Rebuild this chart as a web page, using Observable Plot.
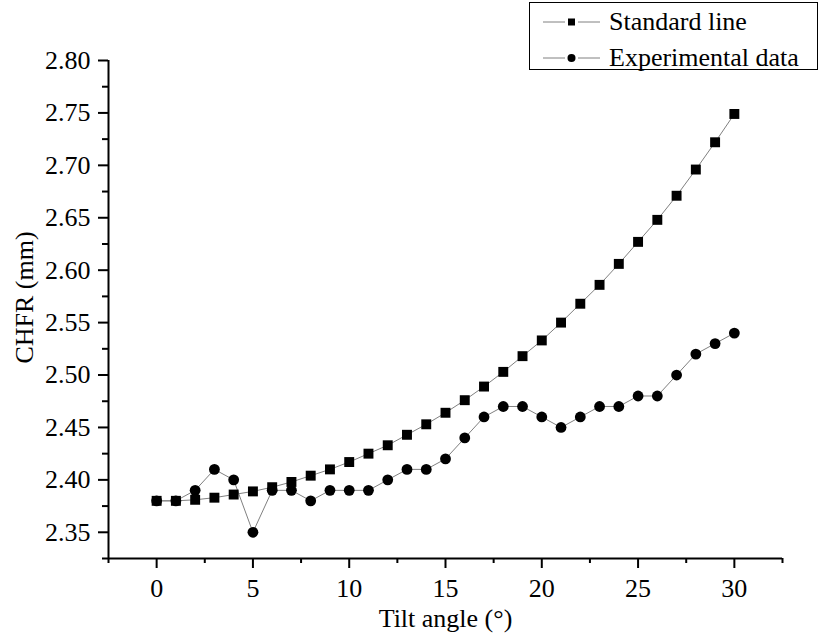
<!DOCTYPE html>
<html>
<head>
<meta charset="utf-8">
<script src="https://cdn.jsdelivr.net/npm/d3@7"></script>
<script src="https://cdn.jsdelivr.net/npm/@observablehq/plot@0.6"></script>
<style>
  html, body { margin: 0; padding: 0; background: #fff; }
  #wrap { position: relative; width: 820px; height: 634px; font-family: "Liberation Serif", "Times New Roman", serif; }
  #wrap svg text { font-family: "Liberation Serif", "Times New Roman", serif; font-variant-numeric: normal; }
  #legend { position: absolute; left: 529px; top: 2px; width: 289px; height: 68px; border: 1px solid #000; box-sizing: border-box; background: #fff; }
  .row { position: absolute; left: 0; height: 34px; display: flex; align-items: center; font-size: 26px; color: #000; white-space: nowrap; }
  .row svg { margin-left: 13px; margin-right: 9px; }
</style>
</head>
<body>
<div id="wrap"></div>
<script>
const angles = [0,1,2,3,4,5,6,7,8,9,10,11,12,13,14,15,16,17,18,19,20,21,22,23,24,25,26,27,28,29,30];
const standardLine = [2.380,2.380,2.381,2.383,2.386,2.389,2.393,2.398,2.404,2.410,2.417,2.425,2.433,2.443,2.453,2.464,2.476,2.489,2.503,2.518,2.533,2.550,2.568,2.586,2.606,2.627,2.648,2.671,2.696,2.722,2.749];
const experimental = [2.38,2.38,2.39,2.41,2.40,2.35,2.39,2.39,2.38,2.39,2.39,2.39,2.40,2.41,2.41,2.42,2.44,2.46,2.47,2.47,2.46,2.45,2.46,2.47,2.47,2.48,2.48,2.50,2.52,2.53,2.54];
const seriesNames = ["Standard line", "Experimental data"];
const xMajorTicks = [0,5,10,15,20,25,30];
const xMinorTicks = [-2.5,2.5,7.5,12.5,17.5,22.5,27.5,32.5];
const yMajorTicks = [2.35,2.40,2.45,2.50,2.55,2.60,2.65,2.70,2.75,2.80];
const yMinorTicks = [2.325,2.375,2.425,2.475,2.525,2.575,2.625,2.675,2.725,2.775];
const xDomain = [-2.5, 32.5];
const yDomain = [2.325, 2.80];
const xLabel = "Tilt angle (°)";
const yLabel = "CHFR (mm)";

const std = angles.map((a, i) => ({x: a, y: standardLine[i]}));
const exp = angles.map((a, i) => ({x: a, y: experimental[i]}));

const font = "'Liberation Serif', 'Times New Roman', serif";
const plot = Plot.plot({
  width: 820,
  height: 634,
  marginLeft: 108,
  marginRight: 38,
  marginTop: 60,
  marginBottom: 76,
  style: {fontFamily: font, fontSize: "26px", color: "#000", background: "#fff"},
  x: {domain: xDomain},
  y: {domain: yDomain},
  marks: [
    Plot.axisX({ticks: xMajorTicks, tickSize: 10, tickPadding: 10, strokeWidth: 2, label: null, fontFamily: font, tickFormat: d => String(d)}),
    Plot.axisX({ticks: xMinorTicks, tickSize: 5, strokeWidth: 2, label: null, tickFormat: () => ""}),
    Plot.axisY({ticks: yMajorTicks, tickSize: 10, tickPadding: 8, strokeWidth: 2, label: null, fontFamily: font, tickFormat: d3.format(".2f")}),
    Plot.axisY({ticks: yMinorTicks, tickSize: 6, strokeWidth: 2, label: null, tickFormat: () => ""}),
    Plot.ruleX([xDomain[0]], {stroke: "#000", strokeWidth: 2}),
    Plot.ruleY([yDomain[0]], {stroke: "#000", strokeWidth: 2}),
    Plot.line(std, {x: "x", y: "y", stroke: "#808080", strokeWidth: 1}),
    Plot.line(exp, {x: "x", y: "y", stroke: "#808080", strokeWidth: 1}),
    Plot.dot(std, {x: "x", y: "y", symbol: "square", r: 5.6, fill: "#000", stroke: "none"}),
    Plot.dot(exp, {x: "x", y: "y", symbol: "circle", r: 5.4, fill: "#000", stroke: "none"}),
    Plot.text([xLabel], {frameAnchor: "bottom", dy: 68, lineAnchor: "bottom", textAnchor: "middle", fontSize: 26, fontFamily: font, fill: "#000"}),
    Plot.text([yLabel], {frameAnchor: "left", dx: -76, dy: -12, rotate: -90, lineAnchor: "bottom", textAnchor: "middle", fontSize: 26, fontFamily: font, fill: "#000"})
  ]
});

const wrap = document.getElementById("wrap");
wrap.appendChild(plot);

const legend = document.createElement("div");
legend.id = "legend";
const symbols = ["square", "circle"];
seriesNames.forEach((name, i) => {
  const row = document.createElement("div");
  row.className = "row";
  row.style.top = (i * 36 + 2) + "px";
  const sym = symbols[i] === "square"
    ? '<rect x="25" y="9.5" width="7" height="7" fill="#000"/>'
    : '<circle cx="28.5" cy="13" r="4" fill="#000"/>';
  row.innerHTML = '<svg width="57" height="26"><line x1="0" x2="22" y1="13" y2="13" stroke="#808080" stroke-width="1"/><line x1="35" x2="57" y1="13" y2="13" stroke="#808080" stroke-width="1"/>' + sym + '</svg><span>' + name + '</span>';
  legend.appendChild(row);
});
wrap.appendChild(legend);
</script>
</body>
</html>
